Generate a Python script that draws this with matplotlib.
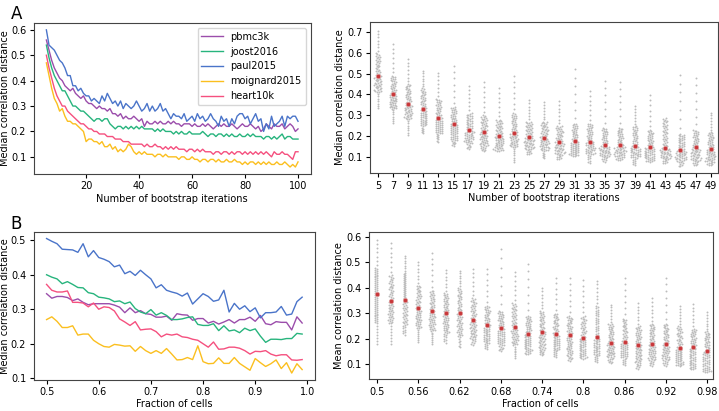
import numpy as np
import pandas as pd
import matplotlib
matplotlib.use("Agg")
import matplotlib.pyplot as plt
import seaborn as sns

names = ["pbmc3k", "joost2016", "paul2015", "moignard2015", "heart10k"]
colors = ["#9b4dab", "#27b47d", "#4a74c9", "#fbbf1f", "#f5507f"]

# panel A, left: median distance vs number of bootstrap iterations (5..100)
n_boot = list(range(5, 101))
pbmc3k_a = [0.56, 0.52, 0.48, 0.45, 0.43, 0.41, 0.40, 0.38, 0.37, 0.36,
            0.37, 0.35, 0.34, 0.33, 0.34, 0.32, 0.31, 0.31, 0.30, 0.29,
            0.30, 0.29, 0.29, 0.28, 0.29, 0.27, 0.27, 0.26, 0.27, 0.25,
            0.26, 0.25, 0.25, 0.26, 0.25, 0.24, 0.25, 0.22, 0.24, 0.23,
            0.23, 0.24, 0.23, 0.24, 0.23, 0.23, 0.24, 0.23, 0.24, 0.23,
            0.23, 0.22, 0.23, 0.23, 0.23, 0.22, 0.23, 0.22, 0.22, 0.23,
            0.22, 0.23, 0.22, 0.21, 0.22, 0.23, 0.22, 0.23, 0.22, 0.22,
            0.23, 0.22, 0.21, 0.22, 0.23, 0.22, 0.22, 0.23, 0.22, 0.21,
            0.22, 0.20, 0.21, 0.23, 0.22, 0.21, 0.23, 0.22, 0.22, 0.23,
            0.21, 0.22, 0.23, 0.22, 0.20, 0.21]
joost2016_a = [0.54, 0.49, 0.45, 0.42, 0.40, 0.38, 0.36, 0.36, 0.34, 0.32,
               0.30, 0.30, 0.29, 0.28, 0.28, 0.27, 0.26, 0.25, 0.24, 0.25,
               0.25, 0.24, 0.25, 0.25, 0.23, 0.22, 0.21, 0.22, 0.22, 0.21,
               0.22, 0.21, 0.22, 0.21, 0.22, 0.21, 0.22, 0.21, 0.21, 0.21,
               0.21, 0.20, 0.21, 0.20, 0.21, 0.20, 0.20, 0.20, 0.19, 0.20,
               0.19, 0.20, 0.19, 0.19, 0.20, 0.19, 0.19, 0.19, 0.19, 0.20,
               0.19, 0.18, 0.19, 0.19, 0.18, 0.19, 0.19, 0.18, 0.19, 0.18,
               0.19, 0.18, 0.18, 0.19, 0.18, 0.18, 0.19, 0.18, 0.19, 0.18,
               0.18, 0.18, 0.17, 0.18, 0.18, 0.17, 0.18, 0.17, 0.18, 0.19,
               0.17, 0.18, 0.18, 0.17, 0.17, 0.17]
paul2015_a = [0.60, 0.54, 0.53, 0.52, 0.50, 0.48, 0.47, 0.45, 0.42, 0.42,
              0.38, 0.38, 0.36, 0.37, 0.35, 0.34, 0.34, 0.32, 0.33, 0.32,
              0.31, 0.34, 0.32, 0.35, 0.33, 0.31, 0.32, 0.30, 0.32, 0.29,
              0.31, 0.30, 0.29, 0.30, 0.32, 0.30, 0.28, 0.29, 0.31, 0.28,
              0.30, 0.28, 0.29, 0.31, 0.28, 0.29, 0.27, 0.25, 0.27, 0.26,
              0.26, 0.25, 0.27, 0.24, 0.25, 0.26, 0.24, 0.27, 0.25, 0.26,
              0.24, 0.25, 0.27, 0.25, 0.24, 0.22, 0.26, 0.24, 0.25, 0.22,
              0.25, 0.23, 0.26, 0.27, 0.27, 0.25, 0.26, 0.23, 0.25, 0.27,
              0.24, 0.25, 0.20, 0.23, 0.21, 0.26, 0.22, 0.23, 0.24, 0.26,
              0.22, 0.26, 0.25, 0.26, 0.26, 0.24]
moignard2015_a = [0.47, 0.42, 0.37, 0.33, 0.31, 0.28, 0.29, 0.26, 0.24, 0.24,
                  0.23, 0.23, 0.22, 0.21, 0.20, 0.16, 0.17, 0.17, 0.16, 0.16,
                  0.15, 0.16, 0.14, 0.14, 0.15, 0.13, 0.14, 0.12, 0.13, 0.12,
                  0.13, 0.15, 0.14, 0.12, 0.11, 0.12, 0.11, 0.12, 0.11, 0.11,
                  0.11, 0.10, 0.11, 0.11, 0.10, 0.11, 0.10, 0.10, 0.10, 0.10,
                  0.09, 0.10, 0.10, 0.09, 0.09, 0.10, 0.09, 0.09, 0.08, 0.09,
                  0.09, 0.08, 0.09, 0.09, 0.08, 0.09, 0.08, 0.08, 0.09, 0.08,
                  0.08, 0.09, 0.08, 0.08, 0.07, 0.08, 0.07, 0.08, 0.08, 0.07,
                  0.08, 0.07, 0.08, 0.07, 0.08, 0.07, 0.07, 0.08, 0.07, 0.07,
                  0.08, 0.07, 0.06, 0.07, 0.06, 0.08]
heart10k_a = [0.50, 0.45, 0.41, 0.37, 0.34, 0.32, 0.30, 0.30, 0.28, 0.27,
              0.26, 0.25, 0.24, 0.23, 0.23, 0.22, 0.21, 0.21, 0.20, 0.20,
              0.19, 0.19, 0.19, 0.18, 0.18, 0.18, 0.17, 0.17, 0.17, 0.16,
              0.16, 0.16, 0.15, 0.15, 0.15, 0.15, 0.15, 0.14, 0.15, 0.14,
              0.14, 0.15, 0.14, 0.14, 0.13, 0.14, 0.13, 0.14, 0.13, 0.14,
              0.13, 0.13, 0.13, 0.12, 0.13, 0.13, 0.12, 0.13, 0.12, 0.13,
              0.12, 0.12, 0.12, 0.11, 0.12, 0.12, 0.11, 0.12, 0.12, 0.11,
              0.12, 0.11, 0.12, 0.12, 0.11, 0.12, 0.11, 0.12, 0.11, 0.12,
              0.11, 0.12, 0.11, 0.12, 0.11, 0.10, 0.12, 0.11, 0.11, 0.12,
              0.11, 0.11, 0.10, 0.09, 0.12, 0.12]

# panel B, left: median distance vs fraction of cells (0.50..0.99)
frac = [round(0.5 + 0.01 * i, 2) for i in range(50)]
pbmc3k_b = [0.345, 0.332, 0.337, 0.337, 0.334, 0.325, 0.330, 0.320, 0.313, 0.316,
            0.316, 0.316, 0.316, 0.312, 0.306, 0.290, 0.304, 0.290, 0.296, 0.287,
            0.285, 0.277, 0.277, 0.280, 0.268, 0.287, 0.284, 0.283, 0.268, 0.273,
            0.273, 0.260, 0.265, 0.257, 0.263, 0.270, 0.260, 0.270, 0.270, 0.277,
            0.265, 0.282, 0.258, 0.255, 0.264, 0.262, 0.262, 0.240, 0.278, 0.260]
joost2016_b = [0.400, 0.393, 0.388, 0.374, 0.380, 0.372, 0.363, 0.362, 0.348, 0.345,
               0.335, 0.333, 0.330, 0.322, 0.324, 0.316, 0.321, 0.302, 0.292, 0.287,
               0.299, 0.283, 0.290, 0.282, 0.270, 0.270, 0.272, 0.276, 0.278, 0.256,
               0.253, 0.253, 0.258, 0.238, 0.252, 0.237, 0.240, 0.232, 0.245, 0.238,
               0.243, 0.222, 0.204, 0.213, 0.213, 0.212, 0.215, 0.215, 0.230, 0.228]
paul2015_b = [0.505, 0.497, 0.490, 0.474, 0.473, 0.472, 0.465, 0.490, 0.452, 0.470,
              0.450, 0.445, 0.438, 0.423, 0.428, 0.403, 0.410, 0.398, 0.413, 0.400,
              0.388, 0.362, 0.371, 0.355, 0.350, 0.346, 0.338, 0.347, 0.315, 0.330,
              0.345, 0.337, 0.323, 0.327, 0.355, 0.292, 0.317, 0.300, 0.310, 0.293,
              0.304, 0.275, 0.290, 0.290, 0.292, 0.308, 0.283, 0.286, 0.322, 0.335]
moignard2015_b = [0.270, 0.278, 0.265, 0.247, 0.247, 0.252, 0.225, 0.228, 0.228, 0.210,
                  0.200, 0.192, 0.190, 0.198, 0.196, 0.193, 0.194, 0.178, 0.192, 0.180,
                  0.172, 0.180, 0.172, 0.186, 0.170, 0.153, 0.154, 0.160, 0.154, 0.194,
                  0.148, 0.142, 0.143, 0.159, 0.143, 0.143, 0.160, 0.143, 0.133, 0.123,
                  0.157, 0.145, 0.134, 0.142, 0.153, 0.128, 0.145, 0.115, 0.142, 0.125]
heart10k_b = [0.372, 0.355, 0.350, 0.350, 0.353, 0.320, 0.320, 0.318, 0.307, 0.318,
              0.300, 0.307, 0.305, 0.295, 0.272, 0.263, 0.253, 0.264, 0.240, 0.242,
              0.243, 0.235, 0.220, 0.228, 0.225, 0.228, 0.220, 0.218, 0.213, 0.210,
              0.200, 0.190, 0.205, 0.184, 0.185, 0.190, 0.190, 0.187, 0.180, 0.170,
              0.178, 0.177, 0.180, 0.170, 0.165, 0.168, 0.168, 0.153, 0.152, 0.154]

# panel A, right: distribution per number of bootstrap iterations
boot_cat = [5, 7, 9, 11, 13, 15, 17, 19, 21, 23, 25, 27, 29, 31, 33, 35, 37, 39, 41, 43, 45, 47, 49]
boot_mean = [0.49, 0.40, 0.354, 0.33, 0.287, 0.258, 0.23, 0.22, 0.20, 0.215, 0.194, 0.193,
             0.172, 0.177, 0.172, 0.156, 0.155, 0.151, 0.146, 0.143, 0.135, 0.145, 0.138]
boot_min = [0.327, 0.26, 0.20, 0.21, 0.17, 0.15, 0.135, 0.127, 0.127, 0.07, 0.11, 0.09,
            0.087, 0.103, 0.066, 0.075, 0.082, 0.06, 0.075, 0.068, 0.052, 0.058, 0.058]
boot_q10 = [0.41, 0.33, 0.28, 0.25, 0.21, 0.18, 0.165, 0.15, 0.14, 0.145, 0.135, 0.13,
            0.11, 0.115, 0.11, 0.10, 0.10, 0.095, 0.09, 0.09, 0.08, 0.08, 0.075]
boot_q50 = [0.485, 0.395, 0.35, 0.325, 0.28, 0.25, 0.225, 0.215, 0.198, 0.21, 0.19, 0.19,
            0.168, 0.17, 0.168, 0.15, 0.15, 0.148, 0.142, 0.14, 0.13, 0.138, 0.132]
boot_q90 = [0.60, 0.49, 0.45, 0.43, 0.38, 0.34, 0.31, 0.30, 0.28, 0.31, 0.27, 0.27,
            0.25, 0.26, 0.26, 0.24, 0.24, 0.25, 0.23, 0.26, 0.21, 0.23, 0.22]
boot_max = [0.714, 0.655, 0.58, 0.52, 0.515, 0.55, 0.45, 0.47, 0.44, 0.50, 0.38, 0.37,
            0.375, 0.54, 0.43, 0.48, 0.477, 0.35, 0.41, 0.287, 0.516, 0.50, 0.32]

# panel B, right: distribution per fraction of cells
frac_cat = [0.5, 0.52, 0.54, 0.56, 0.58, 0.6, 0.62, 0.64, 0.66, 0.68, 0.7, 0.72, 0.74,
            0.76, 0.78, 0.8, 0.82, 0.84, 0.86, 0.88, 0.9, 0.92, 0.94, 0.96, 0.98]
frac_mean = [0.375, 0.35, 0.353, 0.32, 0.308, 0.30, 0.30, 0.273, 0.254, 0.242, 0.248, 0.22,
             0.227, 0.22, 0.214, 0.204, 0.206, 0.184, 0.189, 0.176, 0.18, 0.18, 0.166, 0.167, 0.153]
frac_min = [0.176, 0.176, 0.214, 0.185, 0.176, 0.182, 0.163, 0.176, 0.157, 0.15, 0.12, 0.138,
            0.135, 0.125, 0.113, 0.122, 0.106, 0.104, 0.097, 0.081, 0.094, 0.094, 0.094, 0.081, 0.068]
frac_q10 = [0.26, 0.26, 0.25, 0.24, 0.23, 0.22, 0.21, 0.20, 0.185, 0.175, 0.175, 0.155,
            0.155, 0.155, 0.135, 0.135, 0.135, 0.125, 0.125, 0.105, 0.115, 0.115, 0.105, 0.095, 0.08]
frac_q50 = [0.37, 0.345, 0.348, 0.315, 0.30, 0.295, 0.295, 0.268, 0.248, 0.236, 0.242, 0.215,
            0.222, 0.215, 0.208, 0.198, 0.20, 0.18, 0.184, 0.172, 0.176, 0.175, 0.162, 0.162, 0.148]
frac_q90 = [0.48, 0.45, 0.46, 0.41, 0.39, 0.38, 0.40, 0.36, 0.33, 0.31, 0.34, 0.29,
            0.31, 0.30, 0.29, 0.29, 0.33, 0.26, 0.28, 0.25, 0.26, 0.26, 0.25, 0.24, 0.23]
frac_max = [0.594, 0.585, 0.53, 0.51, 0.547, 0.477, 0.473, 0.484, 0.486, 0.57, 0.473, 0.51,
            0.406, 0.448, 0.448, 0.44, 0.435, 0.34, 0.45, 0.347, 0.366, 0.454, 0.334, 0.344, 0.31]

N_PTS = 72


def expand(cats, mn, q10, q50, q90, mx):
    # turn the read quantiles into N_PTS values per category
    p = (np.arange(N_PTS) + 0.5) / N_PTS
    rows = []
    for i, c in enumerate(cats):
        v = np.interp(p, [0, 0.1, 0.5, 0.9, 1], [mn[i], q10[i], q50[i], q90[i], mx[i]])
        rows.append(pd.DataFrame({"cat": i, "val": v}))
    return pd.concat(rows, ignore_index=True)


plt.rcParams['font.family'] = ['DejaVu Sans']
plt.rcParams['font.size'] = 7.0
plt.rcParams['axes.edgecolor'] = '#444444'
plt.rcParams['axes.linewidth'] = 0.8
plt.rcParams['axes.labelpad'] = 1.5
plt.rcParams['xtick.major.pad'] = 2.5
plt.rcParams['ytick.major.pad'] = 2.5
plt.rcParams['xtick.major.size'] = 3.0
plt.rcParams['ytick.major.size'] = 3.0

fig = plt.figure(figsize=(7.19, 4.11), dpi=100)
ax1 = fig.add_axes([0.047, 0.577, 0.385, 0.367])
ax2 = fig.add_axes([0.515, 0.579, 0.484, 0.367])
ax3 = fig.add_axes([0.047, 0.076, 0.391, 0.360])
ax4 = fig.add_axes([0.513, 0.078, 0.478, 0.357])

#A left
for nm, ys, c in zip(names, [pbmc3k_a, joost2016_a, paul2015_a, moignard2015_a, heart10k_a], colors):
    ax1.plot(n_boot, ys, color=c, lw=1.0, label=nm)
ax1.set_xlabel("Number of bootstrap iterations")
ax1.set_ylabel("Median correlation distance")
ax1.yaxis.set_label_coords(-0.085, 0.5)
ax1.set_xticks([20, 40, 60, 80, 100])
ax1.legend(loc="upper right", fontsize=7.0, handlelength=2.2)

#B left
for nm, ys, c in zip(names, [pbmc3k_b, joost2016_b, paul2015_b, moignard2015_b, heart10k_b], colors):
    ax3.plot(frac, ys, color=c, lw=1.0, label=nm)
ax3.set_xlabel("Fraction of cells")
ax3.set_ylabel("Median correlation distance")
ax3.yaxis.set_label_coords(-0.083, 0.5)
ax3.set_xticks([0.5, 0.6, 0.7, 0.8, 0.9, 1.0])
ax3.set_yticks([0.1, 0.2, 0.3, 0.4, 0.5])

#A right
df_b = expand(boot_cat, boot_min, boot_q10, boot_q50, boot_q90, boot_max)
sns.swarmplot(data=df_b, x="cat", y="val", ax=ax2, color="#bcbcbc", size=1.4, linewidth=0, warn_thresh=1)
ax2.scatter(range(len(boot_cat)), boot_mean, s=10, color="#c8373a", edgecolor="#e0a0a0", lw=0.5, zorder=5)
ax2.set_xticks(range(len(boot_cat)))
ax2.set_xticklabels([str(c) for c in boot_cat])
ax2.set_xlim(-0.5, len(boot_cat) - 0.5)
ax2.set_ylim(0.022, 0.748)
ax2.set_yticks([0.1, 0.2, 0.3, 0.4, 0.5, 0.6, 0.7])
ax2.set_xlabel("Number of bootstrap iterations")
ax2.set_ylabel("Median correlation distance")

#B right
df_f = expand(frac_cat, frac_min, frac_q10, frac_q50, frac_q90, frac_max)
sns.swarmplot(data=df_f, x="cat", y="val", ax=ax4, color="#bcbcbc", size=1.4, linewidth=0, warn_thresh=1)
ax4.scatter(range(len(frac_cat)), frac_mean, s=10, color="#c8373a", edgecolor="#e0a0a0", lw=0.5, zorder=5)
ax4.set_xticks(range(0, len(frac_cat), 3))
ax4.set_xticklabels([f"{c:g}" for c in frac_cat[::3]])
ax4.set_xlim(-0.6, len(frac_cat) - 0.6)
ax4.set_ylim(0.043, 0.618)
ax4.set_yticks([0.1, 0.2, 0.3, 0.4, 0.5, 0.6])
ax4.set_xlabel("Fraction of cells")
ax4.set_ylabel("Mean correlation distance")

fig.text(0.015, 0.965, "A", fontsize=12, va="center")
fig.text(0.015, 0.455, "B", fontsize=12, va="center")

fig.savefig("out.png", dpi=100)
